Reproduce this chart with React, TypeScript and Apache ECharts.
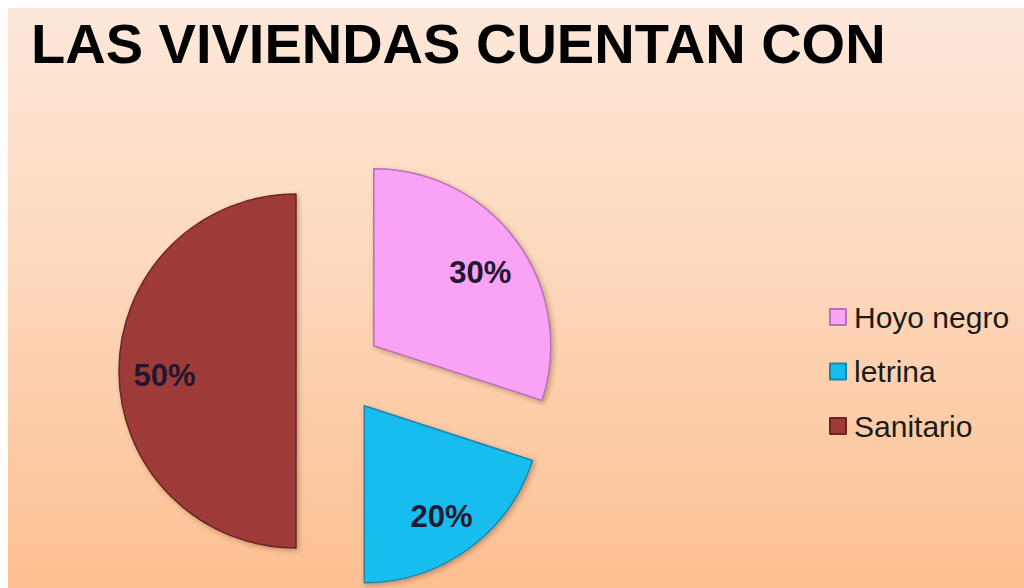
import React, { useEffect, useRef } from "react";
import * as echarts from "echarts";

const titleText = "LAS VIVIENDAS CUENTAN CON";
const categories = ["Hoyo negro", "letrina", "Sanitario"];
const values = [30, 20, 50];
const colors = ["#f9a2f6", "#14bdee", "#9e3b39"];
const borderColors = ["#b673b3", "#1a86ad", "#6a2523"];

export default function App() {
  const ref = useRef<HTMLDivElement>(null);
  useEffect(() => {
    if (!ref.current) return;
    const chart = echarts.init(ref.current, undefined, { renderer: "svg" });
    const total = values.reduce((a, b) => a + b, 0);
    const data = categories.map((name, i) => ({
      name,
      value: values[i],
      selected: true,
      itemStyle: {
        color: colors[i],
        borderColor: borderColors[i],
        borderWidth: 1.5,
        shadowBlur: 5,
        shadowOffsetX: 2,
        shadowOffsetY: 2,
        shadowColor: "rgba(80,40,20,0.35)",
      },
    }));
    chart.setOption({
      animation: false,
      backgroundColor: "transparent",
      title: {
        text: titleText,
        left: 18,
        top: 2,
        textStyle: {
          fontFamily: "Liberation Sans, Arial, sans-serif",
          fontWeight: "bold",
          fontSize: 56,
          color: "#000000",
        },
      },
      legend: {
        orient: "vertical",
        left: 816,
        top: 289,
        itemGap: 24.5,
        itemWidth: 16,
        itemHeight: 16,
        icon: "rect",
        data: categories,
        textStyle: {
          fontFamily: "Liberation Sans, Arial, sans-serif",
          fontSize: 30,
          color: "#1a1a1a",
          padding: [0, 0, 0, 3],
        },
      },
      series: [
        {
          type: "pie",
          center: [331, 363],
          radius: [0, 177],
          startAngle: 90,
          clockwise: true,
          selectedMode: "multiple",
          selectedOffset: 43,
          avoidLabelOverlap: false,
          emphasis: { disabled: true },
          label: {
            show: true,
            position: "inside",
            formatter: "{d}%",
            fontFamily: "Liberation Sans, Arial, sans-serif",
            fontWeight: "bold",
            fontSize: 31,
            color: "#1e1830",
          },
          labelLine: { show: false },
          labelLayout: (params: any) => {
            const i = params.dataIndex;
            let before = 0;
            for (let j = 0; j < i; j++) before += values[j];
            const mid = ((before + values[i] / 2) / total) * Math.PI * 2;
            const extra = 40;
            return { dx: extra * Math.sin(mid), dy: -extra * Math.cos(mid) + 4 };
          },
          data,
        },
      ],
    });
    return () => chart.dispose();
  }, []);
  return (
    <div
      ref={ref}
      style={{
        position: "absolute",
        left: 8,
        top: 8,
        width: 1016,
        height: 580,
        background: "linear-gradient(to bottom, #fde8da 0%, #fdd8bc 45%, #fcc091 100%)",
      }}
    />
  );
}
